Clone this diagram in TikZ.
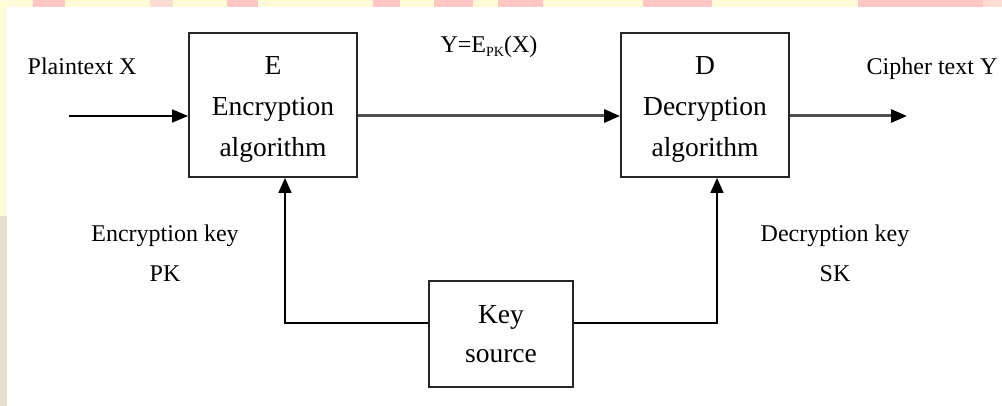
\documentclass[tikz,border=0pt]{standalone}
\usepackage{fontspec}
\setmainfont{Liberation Serif}
\usetikzlibrary{arrows.meta}
\definecolor{bgyellow}{HTML}{FFFBD6}
\definecolor{bgpink}{HTML}{FFC6C4}
\definecolor{bglpink}{HTML}{FFDCD2}
\definecolor{bgbeige}{HTML}{E5DFD2}
\definecolor{thickline}{HTML}{505050}
\tikzset{
  blockbox/.style={draw=black!85, line width=1.8pt, align=center, inner sep=0pt,
    font=\fontsize{27.5}{41}\selectfont},
  lbl/.style={align=center, inner sep=0pt, font=\fontsize{24}{40}\selectfont},
  thinarrow/.style={line width=1.5pt, -{Triangle[length=16pt,width=13pt]}},
  thickarrow/.style={line width=3pt, draw=thickline, -{Triangle[length=16pt,width=13pt,color=black]}},
  keyline/.style={line width=1.5pt, -{Triangle[length=15pt,width=13pt]}}
}
\begin{document}
\begin{tikzpicture}[x=1pt,y=-1pt]
\useasboundingbox (0,0) rectangle (1002,406);
% background
\fill[bgyellow] (0,0) rectangle (1002,406);
\fill[white] (7,7) rectangle (1002,406);
\fill[bgbeige] (0,216) rectangle (7,406);
\foreach \a/\b in {33/65,227/258,373/400,434/473,498/543,643/712,858/983}{
  \fill[bgpink] (\a,0) rectangle (\b,7);
}
\fill[bglpink] (150,0) rectangle (173,7);
\fill[bglpink] (983,0) rectangle (1002,7);

% boxes
\node[blockbox, minimum width=168pt, minimum height=144pt] (E) at (273,105)
  {\rule{0pt}{26pt}E\\Encryption\\algorithm};
\node[blockbox, minimum width=168pt, minimum height=144pt] (D) at (705,105)
  {\rule{0pt}{26pt}D\\Decryption\\algorithm};
\node[blockbox, minimum width=144pt, minimum height=106pt,
  font=\fontsize{27.5}{39}\selectfont] (K) at (501,334) {Key\\source};

% labels
\node[lbl, anchor=base] (pt) at (82,75) {Plaintext X};
\node[lbl, anchor=base] (ct) at (932,75) {Cipher text Y};
\node[lbl, anchor=base] (yl) at (489,53)
  {Y=E\raisebox{-4pt}{\fontsize{14}{14}\selectfont PK}(X)};
\node[lbl, anchor=base] (ek) at (165,242) {Encryption key};
\node[lbl, anchor=base] (pk) at (165,282) {PK};
\node[lbl, anchor=base] (dk) at (835,242) {Decryption key};
\node[lbl, anchor=base] (sk) at (835,282) {SK};

% connectors
\coordinate (in) at (69,116);
\coordinate (out) at (907,116);
\coordinate (kl) at (285,323);
\coordinate (kr) at (717,323);
\draw[thinarrow] (in) -- (in-|E.west);
\draw[thickarrow] (in-|E.east) -- (in-|D.west);
\draw[thickarrow] (in-|D.east) -- (out);
\draw[keyline] (K.west|-kl) -- (kl) -- (kl|-E.south);
\draw[keyline] (K.east|-kr) -- (kr) -- (kr|-D.south);
\end{tikzpicture}
\end{document}
